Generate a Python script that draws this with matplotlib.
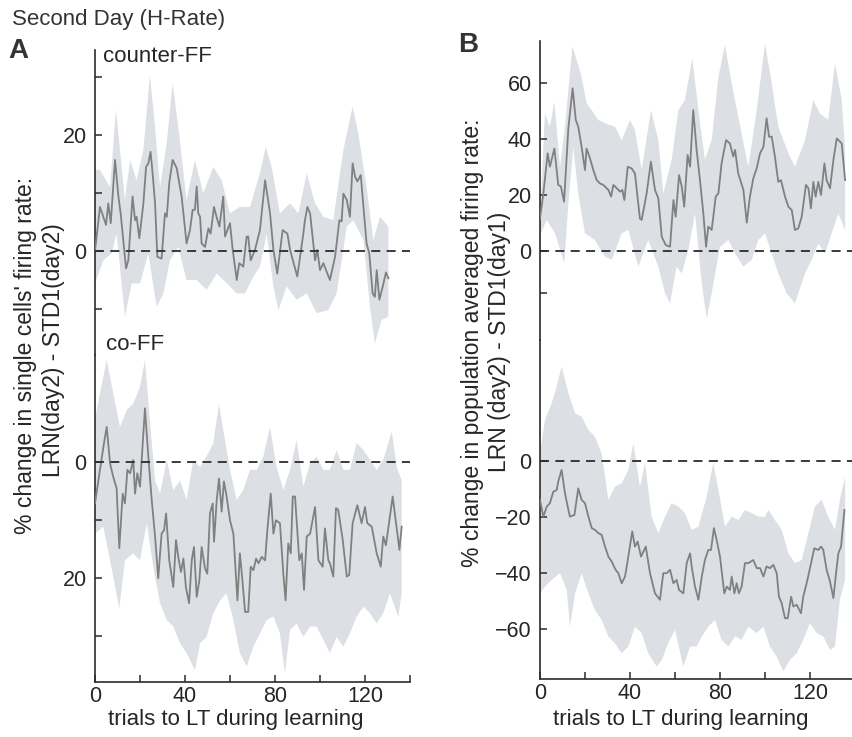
import numpy as np
import matplotlib
matplotlib.use("Agg")
import matplotlib.pyplot as plt

plt.rcParams['font.family'] = ['Liberation Sans', 'DejaVu Sans']

# ---- panel A, counter-FF (single cells) ----
a_cff_t = [0, 2.2, 3.7, 4.9, 5.9, 7, 8.9, 10.4, 11.4, 13.8, 14.8, 16.7, 17.8, 18.5, 19.7, 21.5,
           22.7, 23.7, 24.7, 25.6, 26.7, 27.7, 29.6, 31.1, 31.9, 33, 34.5, 36.3, 38.5, 40.7, 42.2,
           43.4, 44.4, 45.2, 45.9, 46.7, 47.4, 48.9, 50.4, 51.4, 52.9, 54, 55.3, 57, 57.8, 60,
           61.2, 63, 64.1, 65.9, 67.4, 68.1, 69.2, 71.1, 73.3, 75.6, 77.8, 79.3, 81, 83.4, 85.5,
           86.7, 89.9, 92.6, 93.3, 94.4, 95.6, 97.8, 98.8, 100, 101.5, 104.4, 106.7, 108.6, 109.6,
           110.4, 111.9, 113.3, 114.5, 115.6, 116.6, 118.1, 120.7, 121.9, 123.4, 124.4, 125.2,
           126.4, 127.9, 129.3, 130.4]
a_cff_mean = [0, 7.6, 5.9, 4.5, 8.2, 4.8, 15.7, 9.4, 6.5, -3, -1.6, 9.4, 5.3, 5.9, 2.2, 8.2,
              14.5, 15.1, 17.1, 13.4, 8.2, -1, -1.3, 6.5, 5.9, 11.7, 15.7, 14.3, 9.4, 1.3, 3.6,
              7.1, 7.1, 11.1, 6.5, 5.9, 1.3, 0.7, 3.9, 3, 7.6, 5.9, 4.2, 9.4, 2.5, 4.8,
              0.2, -5, -2.1, -2.7, 2.5, 2.5, -1.6, 0.2, 3.6, 12.2, 6.5, 0.2, -3.9, 3.6, 3,
              0.2, -4.4, 3, 5.3, 7.6, 6.5, -1.6, 0.2, -3.3, -2.1, -5, -1, 5.3, 5.1,
              9.9, 8.8, 5.9, 15.1, 12.8, 12, 13.1, 1.3, -0.4, -7.3, -7.9, -3.3,
              -8.4, -6.1, -3.7, -4.7]
a_cff_hi_t = [0, 2.2, 6.7, 9.3, 11.1, 13.3, 15.6, 18.5, 21.5, 24.4, 26.7, 28.9, 31.9, 34.5, 37,
              40.7, 44.4, 48.1, 52.6, 56.3, 60, 64.4, 68.9, 73.3, 75.9, 78.5, 82.2, 86.7, 90.4,
              94.1, 97.8, 101.5, 105.9, 110.4, 114.5, 117, 120.7, 123.7, 126.7, 130.4]
a_cff_hi = [14, 14, 11, 24.3, 17.4, 8.8, 15.7, 12.2, 17.4, 30.3, 21.4, 11, 18.6, 28.9, 21.4,
            8.8, 15.7, 10, 14.5, 12.2, 6.5, 7.6, 7.6, 13.4, 18, 14.5, 6.5, 8.2, 6.5,
            13.4, 8.2, 5.9, 5.3, 17.4, 24.9, 20.3, 11, 1.9, 5.9, 4.2]
a_cff_lo_t = [0, 3.7, 7.4, 9.6, 13.3, 16.3, 20, 23.7, 27.4, 30.4, 33.3, 37, 40.7, 45.2, 49.6,
              54.1, 60, 63, 66.7, 70.4, 73.3, 76.3, 79.3, 81.5, 85.2, 89.6, 94.1, 98.5, 103.7,
              107.4, 111.9, 114.8, 119.3, 122.2, 124.4, 127.4, 130.4]
a_cff_lo = [-5.6, -1.6, -0.4, 3, -11.3, -5.6, -5.6, -0.4, -9.6, -7.3, -1.6, 0.7, -5, -5, -6.7,
            -3.9, -6.1, -7.3, -7.3, -4.4, -2.7, 3, -6.1, -10.2, -6.1, -8.4, -7.3, -10.7, -10.2,
            -7.3, 4.2, 5.3, 1.9, -9.6, -15.9, -11.9, -11.3]

# ---- panel A, co-FF (single cells) ----
a_cof_t = [0, 2.2, 4, 5.2, 6.7, 8.1, 9.6, 10.8, 12.3, 13.3, 14.4, 15.6, 17, 17.8, 18.8, 20,
           22.2, 23.7, 25.2, 26.7, 28.1, 29.6, 30.7, 31.6, 33, 34.8, 36, 37, 38.2, 39.3, 40.4,
           41.8, 43, 44, 45.2, 46.4, 47.4, 48.9, 49.9, 51.1, 52.3, 52.9, 54.1, 55.1, 56.3, 57.3,
           58.5, 60, 61.5, 63.3, 64.4, 65.5, 66.7, 68.1, 69.2, 70.4, 71.6, 72.7, 74.1, 75.6,
           76.6, 78.1, 79.3, 80.4, 82.2, 83.7, 84.7, 85.9, 87, 87.9, 88.9, 89.6, 90.8, 91.9,
           92.9, 94.1, 95.6, 97.8, 99.3, 101.2, 102.2, 103.7, 104.4, 105.9, 107.1, 108.1, 110.1,
           111.9, 113, 114.5, 116.6, 118.5, 120, 121, 123, 125.2, 127, 128.1, 129.3, 132.3,
           133.8, 135.3, 136.3]
a_cof_mean = [-7.2, -1.4, 3.2, 6, -0.3, -2.6, -4.6, -14.9, -5.5, -7.2, -1.4, -2, 0.3, -5.5, -2,
              -4.3, 9.2, 0.9, -6.6, -12.9, -20.1, -12.4, -11.8, -8.9, -17, -21.6, -13.5, -16.4,
              -19, -16.7, -21.6, -24.4, -17, -14.7, -23.3, -20.4, -14.7, -18.4, -19.3, -8.9, -7.2,
              -13.8, -6.6, -2.9, -8.6, -3.4, -6, -10.1, -12.4, -23.9, -15.8, -20.4, -25.9, -25.9,
              -18.1, -18.7, -16.7, -17.5, -16.4, -17, -11.8, -5.5, -12.4, -10.1, -10.6, -19.3,
              -23.9, -14.1, -15.8, -6, -6, -10.1, -17, -15.8, -22.1, -12.9, -12.4, -7.8, -17,
              -18.1, -11.5, -17, -17.5, -19.8, -8, -8.3, -13.5, -19.8, -19.5, -10.6, -7.5, -10.6,
              -7.8, -10.6, -11.2, -15.8, -18.1, -12.9, -14.4, -6, -10.6, -15.2, -11.2]
a_cof_hi_t = [0, 2.2, 5.2, 8.1, 11.1, 14.1, 17, 20, 22.2, 24.4, 26.7, 28.9, 31.9, 34.8, 37.8,
              40.7, 43.7, 46.7, 49.6, 52.6, 55.1, 57, 60, 63, 65.9, 68.9, 71.9, 74.8, 77.8, 80.7,
              83.7, 86.7, 89.6, 92.6, 95.6, 98.5, 101.5, 104.4, 107.4, 110.4, 113.3, 116.3, 119.3,
              122.2, 125.2, 128.1, 131.9, 134.1, 136.3]
a_cof_hi = [7.2, 11.8, 17.5, 11.8, 6, 8.9, 10, 12.9, 17.5, 7.2, -3.2, -5.5, 0.3, -4.9, -3.2,
            -6.6, 0.3, -0.9, 0.9, 3.2, 10, 5.5, -1.4, -6.6, -4.9, -1.4, -1.4, 0.9, 6, -0.9,
            -4.9, -1.4, 3.7, -4.3, -0.3, 0.9, -1.4, -1.4, 2, -1.4, -1.4, 3.2, 2,
            0.3, -1.4, 0.3, 5.2, -0.9, -3.2]
a_cof_lo_t = [0, 3.7, 6.7, 10.8, 13.3, 17, 20, 23, 25.9, 28.9, 31.9, 34.8, 37.8, 40.7, 44.4,
              46.7, 49.6, 52.6, 55.6, 58.5, 61.5, 64.4, 67.4, 70.4, 73.3, 76.3, 79.3, 82.2, 84.4,
              86.7, 89.6, 92.6, 95.6, 98.5, 101.5, 104.4, 107.4, 110.4, 113.3, 116.3, 119.3,
              122.2, 125.2, 128.1, 131.1, 134.8, 136.3]
a_cof_lo = [-12.4, -11.2, -17, -25.3, -17, -15.8, -17, -10.6, -18.1, -24.4, -27.3, -28.4, -31.3,
            -33, -35.9, -31.3, -30.2, -26.1, -23.9, -22.7, -27.3, -33, -35.3, -31.9, -29.6, -27.3,
            -26.7, -29.6, -36.5, -29, -27.9, -30.2, -28.4, -28.4, -30.7, -33, -30.2, -31.9, -29.6,
            -26.7, -25, -26.1, -27.9, -26.1, -22.7, -26.7, -22.7]

# ---- panel B, counter-FF (population average) ----
b_cff_t = [0, 1.5, 3.4, 4.4, 6.4, 8.1, 9.3, 10.7, 12.6, 14.5, 15.9, 17, 18.5, 20, 20.7, 22.2,
           23.7, 25.2, 26.7, 28.1, 30.4, 31.6, 32.6, 34.1, 35.6, 36.6, 37.5, 39, 40.7, 42.2,
           44.4, 45.2, 47.4, 49.3, 51.1, 52.6, 54.1, 55.9, 57.8, 59.3, 60.3, 61.8, 63, 64.1,
           65.6, 66.7, 68.1, 69.6, 71.1, 72.6, 73.8, 74.8, 76.3, 78.1, 79.3, 80.7, 82.7, 84.4,
           85.9, 86.7, 88.1, 90.4, 91.9, 93.3, 94.8, 96.3, 97.8, 99.3, 100.7, 101.8, 103, 104.4,
           105.9, 107.1, 108.9, 110.4, 111.9, 113.3, 114.8, 116.3, 118.2, 119.3, 120.4, 121.5,
           122.5, 123.7, 124.9, 126.4, 127.4, 128.9, 130.4, 131.9, 134.1, 135.6]
b_cff_mean = [11.5, 20.5, 34.8, 30, 36.5, 23.5, 22.9, 17.5, 43.7, 58, 46.7, 44.3, 37.1, 28.8,
              36.5, 33, 28.8, 25.2, 24, 23.5, 21.7, 19.3, 23.5, 22.3, 21.1, 21.7, 18.1, 30, 29.4,
              27.6, 11.5, 11, 20.5, 31.8, 21.7, 18.7, 5, 2, 1.4, 18.1, 12.1, 27, 22.9, 15.7,
              34.2, 30, 50.2, 36, 25.2, 13.3, 1.4, 8.6, 7.4, 19.3, 20.5, 31.2, 39.5, 38.3,
              33.6, 36, 27.6, 21.7, 10, 19.3, 25.8, 29.4, 34.8, 37.1, 47.3, 40.7, 40.7, 33.6,
              24.6, 25.2, 19.3, 15.7, 14.5, 7.4, 8, 12.1, 23.5, 22.3, 15.1, 24.6,
              19.3, 24.6, 19.9, 31.2, 25.2, 22.3, 32.4, 40.1, 38.3, 25.2]
b_cff_hi_t = [0.4, 2.2, 4.4, 6.4, 8.9, 11.1, 14.4, 16.3, 18.5, 20.7, 23, 25.9, 28.9, 33.3, 36.3,
              40, 42.2, 45.2, 49.3, 52.6, 54.8, 58.5, 61.5, 64.4, 67.7, 70.4, 73.3, 76.3, 79.3,
              82.2, 85.2, 89.6, 92.6, 96.3, 100, 103, 105.9, 110.4, 113.3, 117.8, 121.5, 124.4,
              128.1, 131.1, 134.1, 135.6]
b_cff_hi = [18.1, 49, 44.3, 53.2, 30, 44.3, 72.9, 68.1, 62.1, 52.6, 50.2, 46.7, 45.5, 44.3, 39.5,
            46.7, 43.1, 28.8, 50.2, 39.5, 20.5, 32.4, 50.2, 53.8, 68.7, 50.2, 32.4, 39.5, 62.1,
            73.5, 59.8, 41.9, 30, 50.2, 74, 59.8, 44.3, 34.8, 30, 39.5, 53.8, 49,
            46.7, 66.9, 53.8, 36]
b_cff_lo_t = [0.4, 3, 6.7, 10.8, 12.6, 14.8, 17, 20, 24.4, 28.9, 31.9, 36.3, 39.3, 43.7, 48.1,
              52.6, 55.6, 57.8, 60.7, 63, 65.9, 68.9, 71.9, 74.1, 76.3, 80, 83.7, 86.7, 90.4, 94.1,
              97, 100, 103, 105.9, 109.6, 113.3, 117.8, 120.7, 123.7, 126.7, 129.6, 132.6, 135.6]
b_cff_lo = [6.2, 11, 6.2, -4.5, 16.9, 37.1, 20.5, 6.2, 3.8, -2.1, -3.3, 6.2, 7.4, -5.7, 3.8,
            -5.7, -15.2, -18.8, -5.7, -8.1, 0.2, 13.3, -11.7, -24.2, -15.2, 1.4, 3.8, -1, -5.7, -3.3,
            3.8, 6.2, -1, -8.1, -15.2, -18.8, -8.1, -3.3, 2.6, -1, 6.2, 13.3, 7.4]

# ---- panel B, co-FF (population average) ----
b_cof_t = [0, 1.5, 3, 4.4, 5.9, 7.4, 8.1, 9.6, 11.1, 12.3, 13.3, 15.3, 17, 18.5, 20, 21.5, 23,
           24.4, 25.9, 27.4, 28.9, 30.4, 31.9, 33.6, 34.8, 36.3, 37.8, 39, 41, 42.2, 43.4, 44.9,
           47, 48.9, 51.1, 53.3, 54.8, 56.3, 57.8, 59.3, 60.7, 61.8, 63.7, 65.2, 66.7, 67.4,
           68.9, 70.4, 71.9, 73.3, 74.8, 76, 77.3, 78.5, 80, 81.9, 83, 84.4, 85.2, 86.4, 87.4,
           88.4, 89.6, 91.1, 92.6, 94.8, 96.3, 97.8, 99.3, 100.7, 102.2, 103.7, 105.2, 106.2,
           107.4, 108.9, 110.1, 111.6, 112.6, 114.1, 116, 117, 118.5, 120, 121.9, 123.7, 124.9,
           125.9, 127.4, 128.9, 130.4, 131.4, 132.6, 133.8, 135.3]
b_cof_mean = [-13.9, -19.9, -16.3, -15.1, -11, -10.4, -7.4, -3.2, -11.5, -16.3, -19.9, -19.3,
              -9.8, -13.9, -15.1, -19.9, -24, -24.6, -25.8, -26.4, -30.6, -34.2, -36, -38.9,
              -40.1, -43.7, -41.3, -35.4, -25.2, -30.6, -28.8, -34.2, -30.6, -40.1, -47.3, -49.6,
              -40.1, -40.1, -38.9, -43.7, -42.5, -46.1, -47.3, -36.5, -33, -37.7, -44.9, -49.6,
              -41.3, -35.4, -31.8, -31.8, -24, -28.2, -34.2, -47.3, -44.9, -46.1, -41.3, -47.3,
              -43.7, -47.3, -44.9, -36.5, -36.5, -35.4, -38.3, -38.3, -41.3, -37.7, -38.3, -37.1,
              -40.1, -48.5, -50.8, -56.2, -56.2, -48.5, -52, -51.4, -54.4, -48.5, -43.7, -38.3,
              -31.2, -31.8, -30.6, -31.8, -38.9, -43.1, -49, -41.3, -33, -30.6, -17.5]
b_cof_hi_t = [0, 2.2, 5.2, 7.4, 9.6, 12.6, 15.6, 18.5, 21.5, 24.4, 27.4, 30.4, 33.3, 36.3, 39.3,
              41.5, 44.4, 46.7, 49.6, 52.6, 55.6, 58.5, 61.5, 64.4, 67.4, 70.4, 74.1, 77, 79.3,
              82.2, 85.2, 88.1, 91.1, 94.1, 97, 100, 101.5, 104.4, 107.4, 110.4, 113.3, 116.3,
              119.3, 122.2, 125.2, 128.1, 131.1, 133.3, 135.6]
b_cof_hi = [2.7, 14.6, 20.6, 26.5, 33.7, 24.2, 17, 15.8, 11.1, 8.7, 2.7, -13.9, -9.2, -8, -3.2,
            6.3, -9.2, -0.8, -19.9, -25.8, -19.9, -15.1, -16.3, -18.7, -24.6, -23.5, -12.7, -0.8,
            -10.4, -23.5, -19.9, -21.1, -17.5, -18.7, -19.9, -19.9, -17.5, -21.1, -24.6, -33,
            -36.5, -35.4, -25.8, -16.3, -13.9, -19.9, -24.6, -13.9, -5.6]
b_cof_lo_t = [0, 2.2, 5.2, 8.9, 11.9, 13.3, 15.6, 18.5, 21.5, 24.4, 27.4, 30.4, 33.3, 36.3,
              39.3, 42.2, 45.2, 48.1, 51.9, 54.1, 57, 60, 63.7, 66.7, 69.6, 71.9, 74.8, 77.8,
              80.7, 83.7, 86.7, 89.6, 92.6, 96.3, 99.3, 102.2, 105.2, 108.1, 111.1, 114.1, 117,
              120, 123, 125.9, 128.9, 131.1, 133.3, 135.6]
b_cof_lo = [-47.3, -44.9, -42.5, -40.1, -46.1, -59.2, -47.3, -40.1, -47.3, -53.2, -56.8, -62.7,
            -65.1, -68.7, -66.3, -59.2, -61.5, -68.7, -73.5, -71.1, -65.1, -60.4, -73.5, -66.3,
            -66.3, -62.7, -59.2, -56.8, -63.9, -66.3, -62.7, -63.9, -59.2, -61.5, -59.2, -66.3,
            -69.9, -75.2, -71.1, -68.7, -63.9, -58, -61.5, -62.7, -67.5, -66.3, -49.6, -42.5]

x_major = [0, 40, 80, 120]
x_minor = [20, 60, 100, 140]

line_col = '#808080'
band_col = '#dcdfe3'
ink = '#2b2b2b'
txt = '#262626'
W, H = 853, 737


def px_axes(fig, x0, y0, x1, y1):
    # pixel box (top-left origin) -> figure axes
    return fig.add_axes([x0 / W, 1 - y1 / H, (x1 - x0) / W, (y1 - y0) / H])


def draw(ax, t, m, hi_t, hi, lo_t, lo):
    ax.fill(np.r_[hi_t, lo_t[::-1]], np.r_[hi, lo[::-1]], color=band_col, lw=0, zorder=1)
    ax.plot(t, m, color=line_col, lw=1.3, zorder=3)
    ax.axhline(0, color=ink, lw=1.3, ls=(0, (5, 3.5)), zorder=4)
    ax.set_xlim(0, 140)
    ax.set_facecolor('none')
    for s in ['top', 'right']:
        ax.spines[s].set_visible(False)
    for s in ['left', 'bottom']:
        ax.spines[s].set_color(ink)
        ax.spines[s].set_linewidth(1.2)
    ax.tick_params(direction='in', length=5, width=1.1, color=ink, labelsize=15.5,
                   labelcolor=txt)
    ax.tick_params(axis='y', pad=6)
    ax.tick_params(axis='x', pad=3)
    ax.tick_params(which='minor', direction='in', length=5, width=1.1, color=ink)


def top_style(ax):
    ax.spines['bottom'].set_visible(False)
    ax.set_xticks([])


def bottom_style(ax):
    ax.set_xticks(x_major)
    ax.set_xticks(x_minor, minor=True)
    ax.set_xticklabels([str(v) for v in x_major])


def vlabel(x, y, s):
    fig.text(x / W, 1 - y / H, s, fontsize=16.5, color=txt, rotation=90,
             ha='center', va='center')


fig = plt.figure(figsize=(W / 100, H / 100), dpi=100)

# panel A
axA1 = px_axes(fig, 95, 50, 410, 355)
draw(axA1, a_cff_t, a_cff_mean, np.array(a_cff_hi_t), np.array(a_cff_hi),
     np.array(a_cff_lo_t), np.array(a_cff_lo))
axA1.set_ylim(-17.93, 34.66)
axA1.set_yticks([20, 0])
axA1.set_yticklabels(['20', '0'])
axA1.set_yticks([30, 10, -10], minor=True)
top_style(axA1)

axA2 = px_axes(fig, 95, 355, 410, 682)
draw(axA2, a_cof_t, a_cof_mean, np.array(a_cof_hi_t), np.array(a_cof_hi),
     np.array(a_cof_lo_t), np.array(a_cof_lo))
axA2.set_ylim(-37.98, 18.4)
axA2.set_yticks([0, -20])
axA2.set_yticklabels(['0', '20'])
axA2.set_yticks([-10, -30], minor=True)
bottom_style(axA2)

# panel B
axB1 = px_axes(fig, 540, 41, 855, 340)
draw(axB1, b_cff_t, b_cff_mean, np.array(b_cff_hi_t), np.array(b_cff_hi),
     np.array(b_cff_lo_t), np.array(b_cff_lo))
axB1.set_ylim(-31.9, 74.9)
axB1.set_yticks([60, 40, 20, 0])
axB1.set_yticks([-15], minor=True)
top_style(axB1)

axB2 = px_axes(fig, 540, 340, 855, 679)
draw(axB2, b_cof_t, b_cof_mean, np.array(b_cof_hi_t), np.array(b_cof_hi),
     np.array(b_cof_lo_t), np.array(b_cof_lo))
axB2.set_ylim(-77.9, 43.2)
axB2.set_yticks([0, -20, -40, -60])
bottom_style(axB2)

# texts
fig.text(12 / W, 1 - 19 / H, 'Second Day (H-Rate)', fontsize=16, color='#333333',
         ha='left', va='center')
fig.text(8 / W, 1 - 51 / H, 'A', fontsize=20, fontweight='bold', color='#333333',
         ha='left', va='center')
fig.text(458 / W, 1 - 45 / H, 'B', fontsize=20, fontweight='bold', color='#333333',
         ha='left', va='center')
fig.text(103 / W, 1 - 56 / H, 'counter-FF', fontsize=16, color=txt, ha='left', va='center')
fig.text(106 / W, 1 - 344 / H, 'co-FF', fontsize=16, color=txt, ha='left', va='center')

vlabel(26, 355, "% change in single cells' firing rate:")
vlabel(54, 350, "LRN(day2) - STD1(day2)")
vlabel(473, 343, "% change in population averaged firing rate:")
vlabel(500, 342, "LRN (day2) - STD1(day1)")

fig.text(236 / W, 1 - 720 / H, 'trials to LT during learning', fontsize=16, color=txt,
         ha='center', va='center')
fig.text(681 / W, 1 - 720 / H, 'trials to LT during learning', fontsize=16, color=txt,
         ha='center', va='center')

fig.savefig('out.png', dpi=100)
